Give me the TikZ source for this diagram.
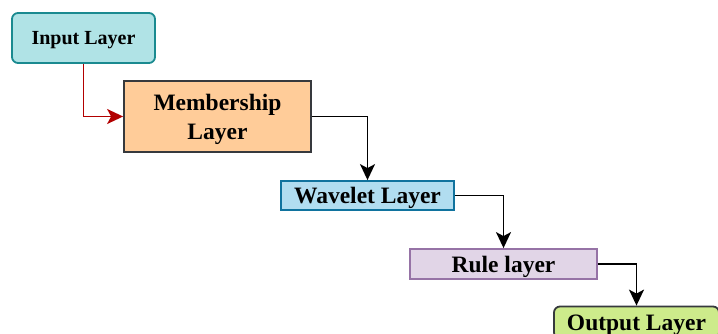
\documentclass[tikz,border=0pt]{standalone}
\usepackage{fontspec}
\setmainfont{Liberation Serif}
\usetikzlibrary{arrows.meta}

\definecolor{inFill}{HTML}{B0E3E6}
\definecolor{inLine}{HTML}{1A8A90}
\definecolor{memFill}{HTML}{FFCC99}
\definecolor{darkLine}{HTML}{36393D}
\definecolor{wavFill}{HTML}{B1DDF0}
\definecolor{wavLine}{HTML}{10739E}
\definecolor{ruleFill}{HTML}{E1D5E7}
\definecolor{ruleLine}{HTML}{9673A6}
\definecolor{outFill}{HTML}{CDEB8B}
\definecolor{redLink}{HTML}{B20000}

\tikzset{
  layer/.style={draw, line width=1.8pt, inner sep=0pt, align=center,
    text depth=0pt, font=\bfseries\fontsize{23.5}{29}\selectfont},
  link/.style={line width=1.6pt, draw=black,
    -{Stealth[length=16pt,width=15pt,inset=4pt]}},
}

\begin{document}
\begin{tikzpicture}[x=1pt,y=-1pt]
  \useasboundingbox (0,0) rectangle (718,334);
  \clip (0,0) rectangle (718,334);

  \node[layer, fill=inFill, draw=inLine, rounded corners=6pt,
        minimum width=143pt, minimum height=50pt,
        font=\bfseries\fontsize{20}{24}\selectfont]
        (input) at (83.5,38) {Input Layer};
  \node[layer, fill=memFill, draw=darkLine,
        minimum width=187pt, minimum height=71pt]
        (member) at (217.5,116.5) {Membership\\Layer};
  \node[layer, fill=wavFill, draw=wavLine,
        minimum width=173pt, minimum height=29pt]
        (wavelet) at (367.5,195.5) {Wavelet Layer};
  \node[layer, fill=ruleFill, draw=ruleLine,
        minimum width=187pt, minimum height=30pt]
        (rule) at (503.5,264) {Rule layer};
  \node[layer, fill=outFill, draw=darkLine, rounded corners=6pt,
        minimum width=165pt, minimum height=32pt]
        (output) at (636.5,322.5) {Output Layer};

  \draw[link, color=redLink] (input.south) |- (member.west);
  \draw[link] (member.east) -| (wavelet.north);
  \draw[link] (wavelet.east) -| (rule.north);
  \draw[link] (rule.east) -| (output.north);
\end{tikzpicture}
\end{document}
